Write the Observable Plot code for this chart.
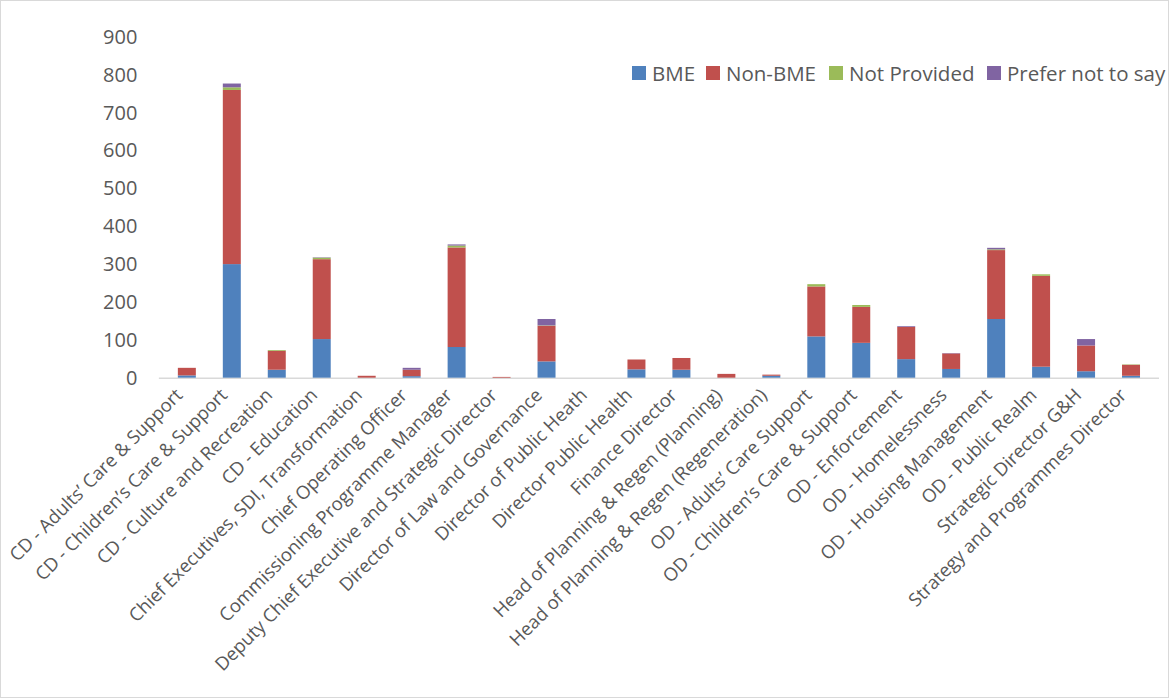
<!DOCTYPE html>
<html>
<head>
<meta charset="utf-8">
<script src="https://cdn.jsdelivr.net/npm/d3@7"></script>
<script src="https://cdn.jsdelivr.net/npm/@observablehq/plot@0.6"></script>
<style>
  html, body { margin: 0; padding: 0; background: #fff; }
  #wrap { position: relative; width: 1167px; height: 696px; border: 1px solid #d9d9d9; overflow: hidden; font-family: "Open Sans", sans-serif; }
  #chart { position: absolute; left: -1px; top: -1px; }
  #legend { position: absolute; left: 0; top: 57px; width: 1167px; height: 30px; font-size: 20.5px; color: #595959; white-space: nowrap; }
  .item { position: absolute; top: 0; height: 30px; display: flex; align-items: center; }
  .sw { width: 14px; height: 14px; margin-right: 6px; }
</style>
</head>
<body>
<div id="wrap">
  <div id="chart"></div>
  <div id="legend"></div>
</div>
<script>
const categories = [
  "CD - Adults\u2019 Care & Support",
  "CD - Children\u2019s Care & Support",
  "CD - Culture and Recreation",
  "CD - Education",
  "Chief Executives, SDI, Transformation",
  "Chief Operating Officer",
  "Commissioning Programme Manager",
  "Deputy Chief Executive and Strategic Director",
  "Director of Law and Governance",
  "Director of Public Heath",
  "Director Public Health",
  "Finance Director",
  "Head of Planning & Regen (Planning)",
  "Head of Planning & Regen (Regeneration)",
  "OD - Adults\u2019 Care Support",
  "OD - Children\u2019s Care & Support",
  "OD - Enforcement",
  "OD - Homelessness",
  "OD - Housing Management",
  "OD - Public Realm",
  "Strategic Director G&H",
  "Strategy and Programmes Director"
];
const seriesNames = ["BME", "Non-BME", "Not Provided", "Prefer not to say"];
const bme          = [6, 300, 21, 102, 0, 4, 81, 0, 43, 0, 22, 21, 0, 5, 109, 92, 49, 23, 155, 29, 17, 5];
const nonBme       = [20, 460, 50, 211, 5, 17, 263, 2, 94, 0, 26, 31, 10, 3, 132, 95, 85, 41, 182, 240, 68, 29];
const notProvided  = [0, 7, 2, 4, 0, 0, 5, 0, 1, 0, 0, 0, 0, 0, 6, 5, 0, 0, 2, 4, 0, 1];
const preferNot    = [0, 10, 0, 1, 0, 5, 3, 0, 17, 0, 0, 0, 0, 0, 0, 0, 2, 1, 4, 0, 17, 0];
const yTicks = [0, 100, 200, 300, 400, 500, 600, 700, 800, 900];
const colors = ["#4f81bd", "#c0504d", "#9bbb59", "#8064a2"];

const seriesValues = [bme, nonBme, notProvided, preferNot];
const rows = [];
categories.forEach((c, i) => {
  seriesNames.forEach((s, j) => rows.push({category: c, series: s, value: seriesValues[j][i]}));
});

const chart = Plot.plot({
  width: 1169,
  height: 698,
  marginLeft: 159,
  marginRight: 9,
  marginTop: 37,
  marginBottom: 320,
  style: {fontFamily: "'Open Sans', sans-serif", color: "#595959", background: "transparent"},
  x: {domain: categories, paddingInner: 0.6, paddingOuter: 0.3, label: null},
  y: {domain: [0, 900], label: null},
  color: {domain: seriesNames, range: colors},
  marks: [
    Plot.ruleY([0], {stroke: "#d9d9d9", strokeWidth: 1.5}),
    Plot.barY(rows, Plot.stackY({x: "category", y: "value", fill: "series", order: seriesNames})),
    Plot.axisY({ticks: yTicks, tickSize: 0, tickPadding: 22, fontSize: 20, fill: "#595959"}),
    Plot.axisX({tickSize: 0, tickRotate: -45, tickPadding: 10, fontSize: 18.5, fill: "#595959", dx: -8, dy: 4})
  ]
});
document.getElementById("chart").appendChild(chart);

// legend entries laid out left to right, each at its own column
const legendLeft = [631, 705, 828, 986];
const legend = document.getElementById("legend");
seriesNames.forEach((s, j) => {
  const it = document.createElement("div");
  it.className = "item";
  it.style.left = legendLeft[j] + "px";
  const sw = document.createElement("div");
  sw.className = "sw";
  sw.style.background = colors[j];
  const t = document.createElement("span");
  t.textContent = s;
  it.appendChild(sw); it.appendChild(t);
  legend.appendChild(it);
});
</script>
</body>
</html>
